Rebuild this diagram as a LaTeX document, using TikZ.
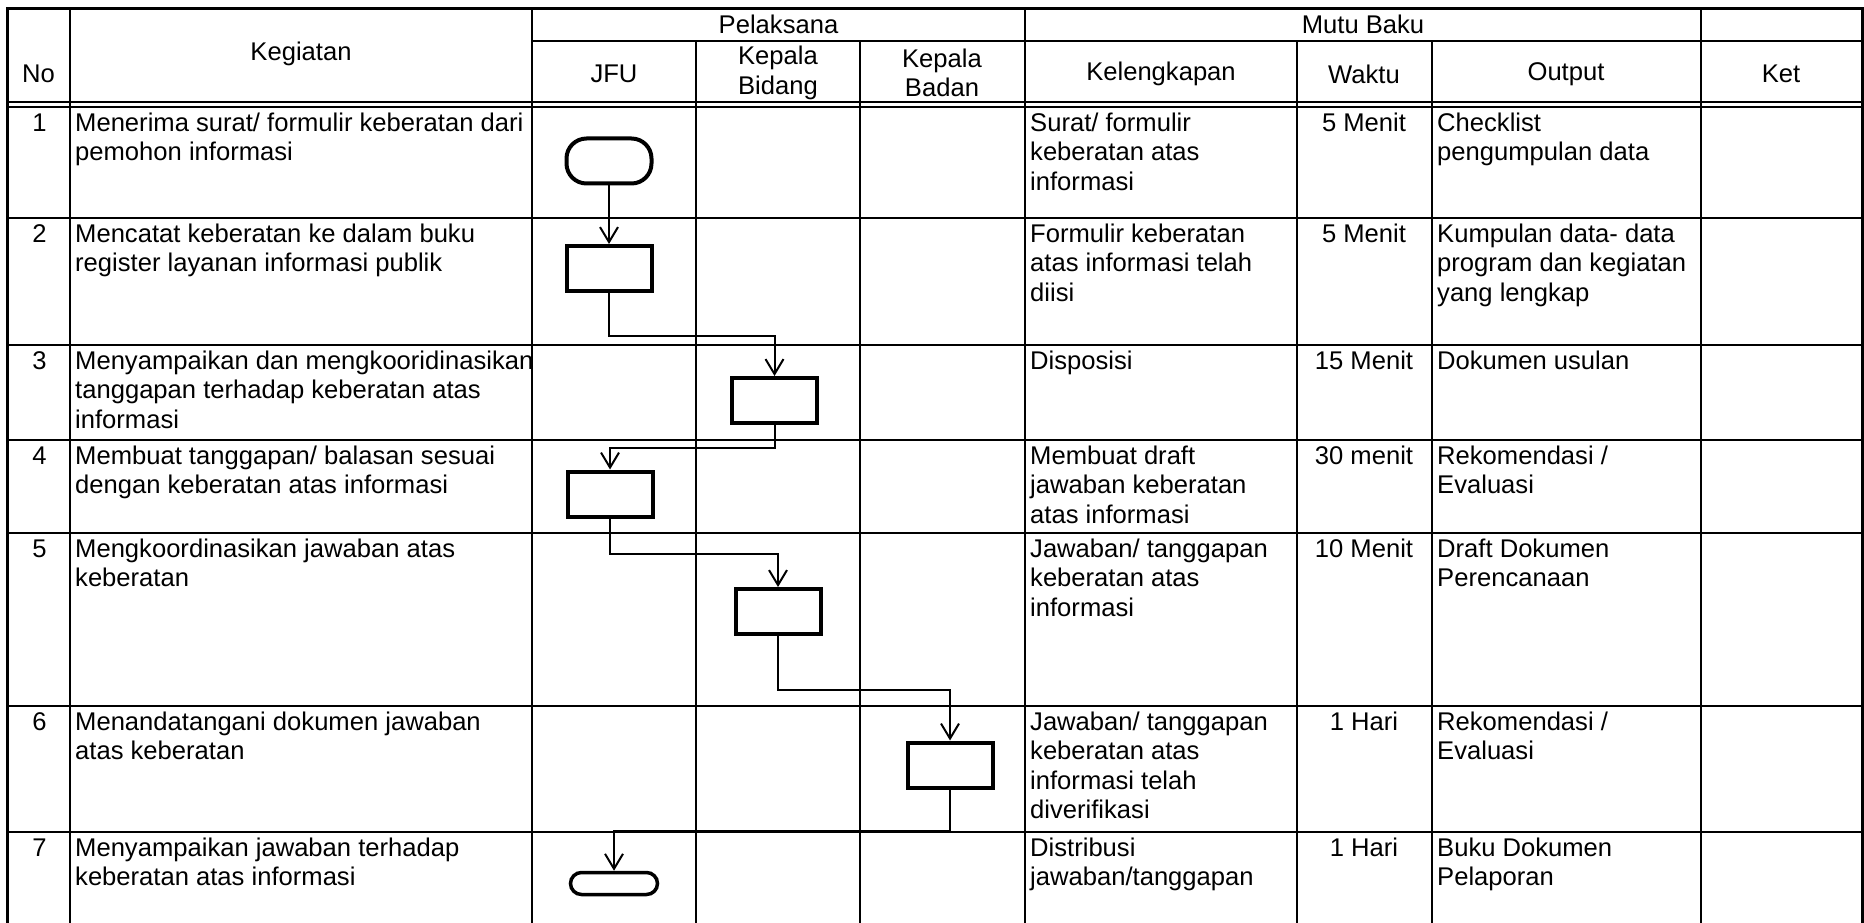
\documentclass[tikz,border=0pt]{standalone}
\usepackage{fontspec}
\setmainfont{Liberation Sans}
\usetikzlibrary{arrows.meta}
\begin{document}
\begin{tikzpicture}[x=1pt,y=-1pt,
  font=\fontsize{25.6}{29.5}\selectfont,
  grid/.style={line width=2},
  outer/.style={line width=3},
  box/.style={draw, line width=4, minimum width=85, minimum height=45, inner sep=0},
  term/.style={box, rounded corners=20},
  term7/.style={draw, line width=3.5, minimum width=87, minimum height=22, inner sep=0, rounded corners=11},
  flow/.style={line width=2, -{Straight Barb[length=15pt,width=18pt,line width=2pt]}},
  cell/.style={anchor=north west, inner sep=0, align=left},
  ccell/.style={anchor=north, inner sep=0, align=center},
  head/.style={inner sep=0, align=center}]
\useasboundingbox (0,0) rectangle (1864,923);
% table lines
\draw[outer] (7,925) -- (7,9) -- (1862,9) -- (1862,925);
\draw[grid] (70,9) -- (70,925);
\draw[grid] (532,9) -- (532,925);
\draw[grid] (696,41) -- (696,925);
\draw[grid] (860,41) -- (860,925);
\draw[grid] (1025,9) -- (1025,925);
\draw[grid] (1297,41) -- (1297,925);
\draw[grid] (1432,41) -- (1432,925);
\draw[grid] (1701,9) -- (1701,925);
\draw[grid] (532,41) -- (1862,41);
\draw[grid] (7,102) -- (1862,102);
\draw[grid] (7,107) -- (1862,107);
\foreach \yy in {218,345,440,533,706,832} \draw[grid] (7,\yy) -- (1862,\yy);
% header
\node[head] (hno) at (38.5,74) {No};
\node[head] (hkeg) at (301,54) {Kegiatan};
\node[head] (hpel) at (778.5,24) {Pelaksana};
\node[head] (hmutu) at (1363,24) {Mutu Baku};
\node[head] (hjfu) at (614,74) {JFU};
\node[head] (hkb) at (778,73) {Kepala\\Bidang};
\node[head] (hkbd) at (942,73) {Kepala\\Badan};
\node[head] (hkel) at (1161,74) {Kelengkapan};
\node[head] (hwak) at (1364,74) {Waktu};
\node[head] (hout) at (1566,74) {Output};
\node[head] (hket) at (1781,74) {Ket};
% rows
\foreach \yy/\n/\keg/\kel/\wak/\out [count=\i] in {
 107/1/{Menerima surat/ formulir keberatan dari\\pemohon informasi}/{Surat/ formulir\\keberatan atas\\informasi}/{5 Menit}/{Checklist\\pengumpulan data},
 218/2/{Mencatat keberatan ke dalam buku\\register layanan informasi publik}/{Formulir keberatan\\atas informasi telah\\diisi}/{5 Menit}/{Kumpulan data- data\\program dan kegiatan\\yang lengkap},
 345/3/{Menyampaikan dan mengkooridinasikan\\tanggapan terhadap keberatan atas\\informasi}/{Disposisi}/{15 Menit}/{Dokumen usulan},
 440/4/{Membuat tanggapan/ balasan sesuai\\dengan keberatan atas informasi}/{Membuat draft\\jawaban keberatan\\atas informasi}/{30 menit}/{Rekomendasi /\\Evaluasi},
 533/5/{Mengkoordinasikan jawaban atas\\keberatan}/{Jawaban/ tanggapan\\keberatan atas\\informasi}/{10 Menit}/{Draft Dokumen\\Perencanaan},
 706/6/{Menandatangani dokumen jawaban\\atas keberatan}/{Jawaban/ tanggapan\\keberatan atas\\informasi telah\\diverifikasi}/{1 Hari}/{Rekomendasi /\\Evaluasi},
 832/7/{Menyampaikan jawaban terhadap\\keberatan atas informasi}/{Distribusi\\jawaban/tanggapan}/{1 Hari}/{Buku Dokumen\\Pelaporan}}
{
  \node[ccell] (no\i) at (39.5,\yy+3.5) {\strut\n};
  \node[cell] (keg\i) at (75,\yy+3.5) {\strut\keg};
  \node[cell] (kel\i) at (1030,\yy+3.5) {\strut\kel};
  \node[ccell] (wak\i) at (1364,\yy+3.5) {\strut\wak};
  \node[cell] (out\i) at (1437,\yy+3.5) {\strut\out};
}
% flowchart
\node[term] (t1) at (609,161) {};
\node[box] (b2) at (609,268.5) {};
\node[box] (b3) at (774.5,400.5) {};
\node[box] (b4) at (610,494) {};
\node[box] (b5) at (778,611.5) {};
\node[box] (b6) at (950,765) {};
\node[term7] (t7) at (614,883.5) {};
\draw[flow] (t1.south) -- (b2.north);
\draw[flow] (b2.south) -- ++(0,43) -| (b3.north);
\draw[flow] (b3.south) -- ++(0,23) -| (b4.north);
\draw[flow] (b4.south) -- ++(0,35) -| (b5.north);
\draw[flow] (b5.south) -- ++(0,54) -| (b6.north);
\draw[flow] (b6.south) -- ++(0,41) -| (t7.north);
\end{tikzpicture}
\end{document}
